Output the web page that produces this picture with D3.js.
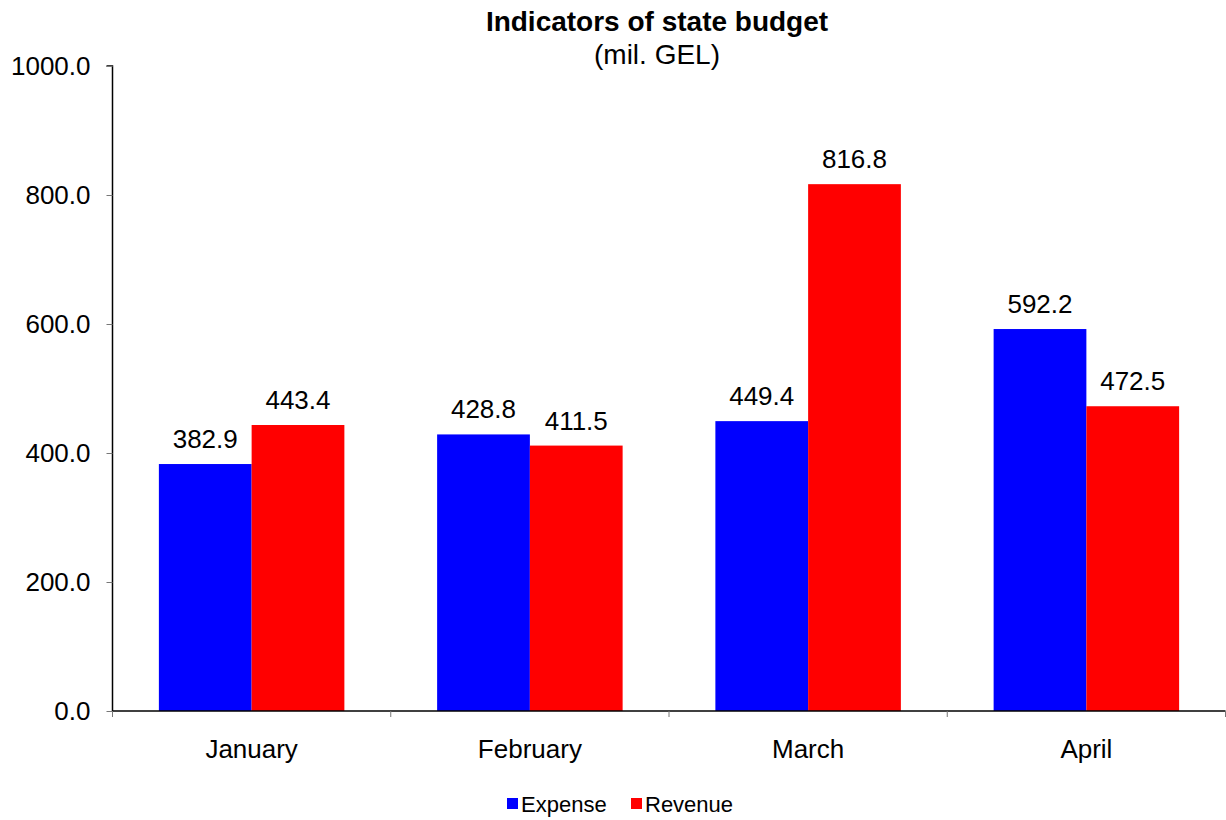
<!DOCTYPE html>
<html>
<head>
<meta charset="utf-8">
<script src="https://cdn.jsdelivr.net/npm/d3@7"></script>
<style>
  body { margin: 0; background: #fff; }
  text { font-family: "Liberation Sans", Arial, sans-serif; fill: #000; }
</style>
</head>
<body>
<div id="chart"></div>
<script>
const months = ["January", "February", "March", "April"];
const expense = [382.9, 428.8, 449.4, 592.2];
const revenue = [443.4, 411.5, 816.8, 472.5];
const seriesNames = ["Expense", "Revenue"];
const seriesColors = ["#0000ff", "#ff0000"];
const yTicks = [0, 200, 400, 600, 800, 1000];

const width = 1226, height = 820;
const margin = { left: 112.5, right: 1225.5, top: 66, bottom: 711 };

let svg = d3.select("#chart").append("svg")
    .attr("width", width)
    .attr("height", height);

let x = d3.scaleBand()
    .domain(months)
    .range([margin.left, margin.right]);

let inner = d3.scaleBand()
    .domain(seriesNames)
    .range([0, x.bandwidth()])
    .paddingOuter(0.5);

let y = d3.scaleLinear()
    .domain([0, 1000])
    .range([margin.bottom, margin.top]);

let rows = months.map((m, i) => ({ month: m, values: [expense[i], revenue[i]] }));

let groups = svg.selectAll("g.month")
    .data(rows)
    .join("g")
    .attr("class", "month")
    .attr("transform", d => `translate(${x(d.month)},0)`);

groups.selectAll("rect")
    .data(d => d.values.map((v, j) => ({ name: seriesNames[j], value: v, color: seriesColors[j] })))
    .join("rect")
    .attr("x", d => inner(d.name))
    .attr("width", inner.bandwidth())
    .attr("y", d => y(d.value))
    .attr("height", d => y(0) - y(d.value))
    .attr("fill", d => d.color);

groups.selectAll("text.val")
    .data(d => d.values.map((v, j) => ({ name: seriesNames[j], value: v })))
    .join("text")
    .attr("class", "val")
    .attr("x", d => inner(d.name) + inner.bandwidth() / 2)
    .attr("y", d => y(d.value) - 16)
    .attr("text-anchor", "middle")
    .style("font-size", "26px")
    .text(d => d.value.toFixed(1));

// y axis
let yAxis = svg.append("g")
    .attr("transform", `translate(${margin.left},0)`)
    .call(d3.axisLeft(y).tickValues(yTicks).tickSize(6).tickPadding(16).tickFormat(d3.format(".1f")));
yAxis.select(".domain").attr("stroke", "#000").attr("stroke-width", 1.5).attr("d", `M-6,${margin.top}H0V${margin.bottom}`);
yAxis.selectAll(".tick line").attr("stroke", "#777");
yAxis.selectAll(".tick text").style("font-size", "26px").style("font-family", "Liberation Sans, Arial, sans-serif").attr("fill", "#000");

// x axis
let xAxis = svg.append("g")
    .attr("transform", `translate(0,${margin.bottom})`)
    .call(d3.axisBottom(x).tickSize(0).tickPadding(29));
xAxis.select(".domain").attr("stroke", "#000").attr("stroke-width", 1.5).attr("d", `M${margin.left},0H${margin.right}`);
xAxis.selectAll(".tick text").style("font-size", "26px").style("font-family", "Liberation Sans, Arial, sans-serif").attr("fill", "#000");
xAxis.selectAll("line.sep")
    .data(months.map(m => x(m)).concat([margin.right]))
    .join("line")
    .attr("class", "sep")
    .attr("x1", d => d).attr("x2", d => d)
    .attr("y1", 0).attr("y2", 6)
    .attr("stroke", "#777");

// title
svg.append("text")
    .attr("x", 657).attr("y", 31)
    .attr("text-anchor", "middle")
    .style("font-size", "28px")
    .style("font-weight", "bold")
    .text("Indicators of state budget");
svg.append("text")
    .attr("x", 657).attr("y", 64)
    .attr("text-anchor", "middle")
    .style("font-size", "28px")
    .text("(mil. GEL)");

// legend
let legend = svg.append("g");
let legendX = [507, 631];
seriesNames.forEach((name, i) => {
    legend.append("rect")
        .attr("x", legendX[i]).attr("y", 798)
        .attr("width", 11).attr("height", 11)
        .attr("fill", seriesColors[i]);
    legend.append("text")
        .attr("x", legendX[i] + 14).attr("y", 812)
        .style("font-size", "22px")
        .text(name);
});
</script>
</body>
</html>
